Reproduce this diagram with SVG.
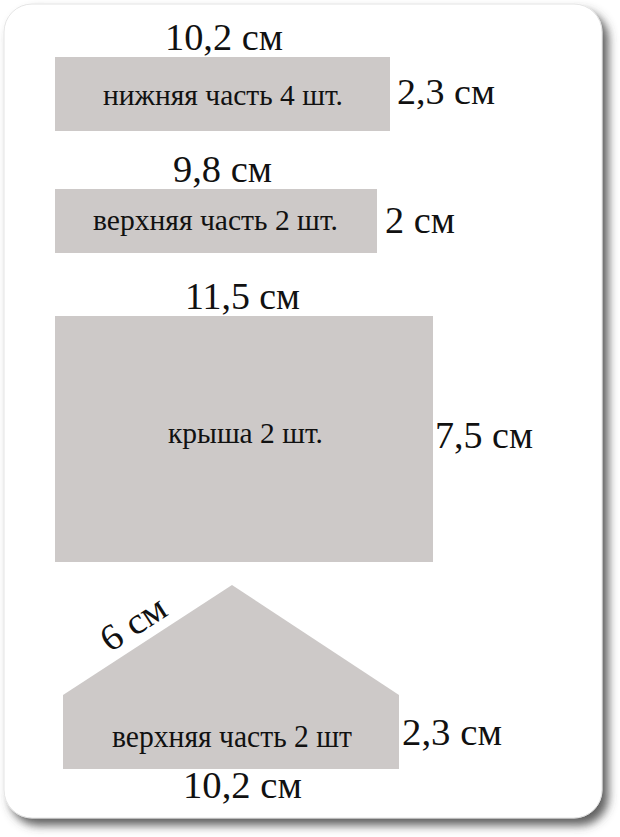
<svg xmlns="http://www.w3.org/2000/svg" width="620" height="837" viewBox="0 0 620 837">
<defs>
<filter id="sh" x="-5%" y="-5%" width="112%" height="110%">
<feDropShadow dx="6" dy="7" stdDeviation="5" flood-color="#444" flood-opacity="0.85"/>
</filter>
<style>
.piece{fill:#cdc9c8}
.t{font-family:'Liberation Serif','Times New Roman',serif;fill:#111}
.dim{font-size:37px}
.lab{font-size:29px}
</style>
</defs>
<rect width="620" height="837" fill="#ffffff"/>
<rect id="card" x="4" y="4" width="598" height="814" rx="28" fill="#ffffff" stroke="#e4e4e4" stroke-width="1" filter="url(#sh)"/>

<g id="bottom-part">
<rect class="piece" x="55" y="57" width="335" height="74"/>
<text class="t dim" x="165" y="50" textLength="118" lengthAdjust="spacingAndGlyphs">10,2 см</text>
<text class="t lab" x="103" y="105" textLength="240" lengthAdjust="spacingAndGlyphs">нижняя часть 4 шт.</text>
<text class="t" style="font-size:35px" x="397" y="104" textLength="98" lengthAdjust="spacingAndGlyphs">2,3 см</text>
</g>

<g id="top-part">
<rect class="piece" x="55" y="189" width="322" height="64"/>
<text class="t dim" x="173" y="182" textLength="99" lengthAdjust="spacingAndGlyphs">9,8 см</text>
<text class="t lab" x="93" y="230" textLength="245" lengthAdjust="spacingAndGlyphs">верхняя часть 2 шт.</text>
<text class="t dim" x="385" y="233" textLength="70" lengthAdjust="spacingAndGlyphs">2 см</text>
</g>

<g id="roof">
<rect class="piece" x="55" y="316" width="378" height="246"/>
<text class="t dim" x="185" y="309" textLength="115" lengthAdjust="spacingAndGlyphs">11,5 см</text>
<text class="t lab" x="168" y="443" textLength="155" lengthAdjust="spacingAndGlyphs">крыша 2 шт.</text>
<text class="t dim" x="435" y="448" textLength="98" lengthAdjust="spacingAndGlyphs">7,5 см</text>
</g>

<g id="gable">
<polygon class="piece" points="232,585 399,695 399,769 63,769 63,695"/>
<text class="t dim" transform="translate(110,653) rotate(-33)" x="0" y="0" textLength="71" lengthAdjust="spacingAndGlyphs">6 см</text>
<text class="t" style="font-size:31px" x="112" y="747" textLength="240" lengthAdjust="spacingAndGlyphs">верхняя часть 2 шт</text>
<text class="t dim" x="402" y="745" textLength="100" lengthAdjust="spacingAndGlyphs">2,3 см</text>
<text class="t dim" x="183" y="798" textLength="119" lengthAdjust="spacingAndGlyphs">10,2 см</text>
</g>
</svg>
